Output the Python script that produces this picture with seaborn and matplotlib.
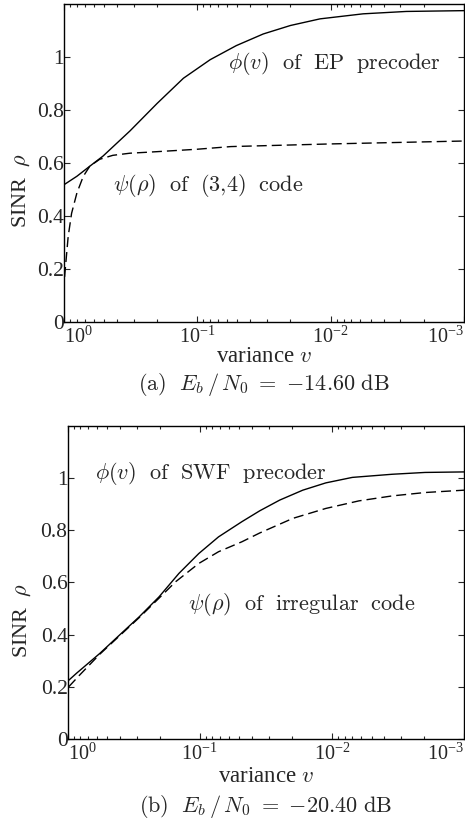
import matplotlib
matplotlib.use("Agg")
import matplotlib.pyplot as plt
import seaborn as sns

# (a) EP precoder vs (3,4) code, Eb/N0 = -14.60 dB
v_phi_a = [1.0, 0.80, 0.64, 0.51, 0.32, 0.20, 0.127, 0.080, 0.051, 0.032,
           0.020, 0.012, 0.0057, 0.0027, 0.001]
phi_a = [0.518, 0.55, 0.588, 0.626, 0.721, 0.825, 0.92, 0.99, 1.043, 1.087,
         1.119, 1.144, 1.163, 1.172, 1.175]
v_psi_a = [0.99, 0.93, 0.877, 0.80, 0.716, 0.64, 0.54, 0.43, 0.32, 0.23,
           0.10, 0.056, 0.01, 0.001]
psi_a = [0.17, 0.323, 0.41, 0.487, 0.55, 0.588, 0.614, 0.629, 0.637, 0.641,
         0.652, 0.662, 0.672, 0.683]

# (b) SWF precoder vs irregular code, Eb/N0 = -20.40 dB
v_phi_b = [0.98, 0.855, 0.57, 0.405, 0.286, 0.203, 0.1435, 0.1016, 0.072,
           0.048, 0.0351, 0.0248, 0.0166, 0.0111, 0.0070, 0.0035, 0.00197, 0.001]
phi_b = [0.225, 0.252, 0.328, 0.398, 0.469, 0.545, 0.635, 0.711, 0.775,
         0.833, 0.875, 0.916, 0.954, 0.982, 1.003, 1.015, 1.022, 1.024]
v_psi_b = [0.98, 0.81, 0.57, 0.405, 0.286, 0.203, 0.152, 0.1016, 0.072,
           0.048, 0.0351, 0.0197, 0.0111, 0.00624, 0.0035, 0.00197, 0.001]
psi_b = [0.20, 0.245, 0.325, 0.395, 0.466, 0.54, 0.603, 0.673, 0.718,
         0.756, 0.79, 0.846, 0.884, 0.913, 0.932, 0.945, 0.954]

yticks = [0, 0.2, 0.4, 0.6, 0.8, 1]
ytick_labels = ["0", "0.2", "0.4", "0.6", "0.8", "1"]
xticks = [1, 0.1, 0.01, 0.001]
xtick_labels = [r"$\mathdefault{10^{0}}$", r"$\mathdefault{10^{-1}}$",
                r"$\mathdefault{10^{-2}}$", r"$\mathdefault{10^{-3}}$"]

sns.set_style("ticks")
plt.rcParams["font.family"] = ["Liberation Serif", "DejaVu Serif"]
plt.rcParams["mathtext.fontset"] = "cm"

fig = plt.figure(figsize=(4.65, 8.21), dpi=100)
ax1 = fig.add_axes([0.1376, 0.6078, 0.860, 0.3873])
ax2 = fig.add_axes([0.1452, 0.0999, 0.8527, 0.3812])

panels = [
    (ax1, v_phi_a, phi_a, v_psi_a, psi_a,
     r"$\phi(v)\ \ \mathrm{of\ \ EP\ \ precoder}$", (0.41, 0.814),
     r"$\psi(\rho)\ \ \mathrm{of\ \ (3{,}4)\ \ code}$", (0.1225, 0.43),
     r"$\mathrm{(a)}\ \ E_b\,/\,N_0\ =\ {-}14.60\ \mathrm{dB}$", -0.198,
     (-0.08, 0.415), -0.075),
    (ax2, v_phi_b, phi_b, v_psi_b, psi_b,
     r"$\phi(v)\ \ \mathrm{of\ \ SWF\ \ precoder}$", (0.069, 0.847),
     r"$\psi(\rho)\ \ \mathrm{of\ \ irregular\ \ code}$", (0.304, 0.431),
     r"$\mathrm{(b)}\ \ E_b\,/\,N_0\ =\ {-}20.40\ \mathrm{dB}$", -0.217,
     (-0.088, 0.38), -0.086),
]

for (ax, vp, ph, vs, ps, lab_phi, pos_phi, lab_psi, pos_psi,
     caption, cap_y, ylab_pos, xlab_y) in panels:
    sns.lineplot(x=vp, y=ph, ax=ax, color="black", lw=1.0,
                 estimator=None, sort=False)
    sns.lineplot(x=vs, y=ps, ax=ax, color="black", lw=1.0,
                 estimator=None, sort=False)
    ax.lines[-1].set_dashes((7.2, 3.6))

    ax.set_xscale("log")
    ax.set_xlim(1.0, 1e-3)
    ax.set_ylim(0, 1.2)
    ax.set_yticks(yticks)
    ax.set_yticklabels(ytick_labels)
    ax.set_xticks(xticks)
    ax.set_xticklabels(xtick_labels)

    ax.tick_params(which="both", direction="in", top=True, right=True,
                   width=0.8)
    ax.tick_params(axis="x", which="major", length=4, pad=3.5, labelsize=14.5)
    ax.tick_params(axis="x", which="minor", length=2.5)
    ax.tick_params(axis="y", which="major", length=4, pad=0, labelsize=15.5)
    for s in ax.spines.values():
        s.set_linewidth(1.0)
        s.set_color("black")

    ticks = ax.xaxis.get_major_ticks()
    ticks[0].label1.set_horizontalalignment("left")
    ticks[-1].label1.set_horizontalalignment("right")

    ax.set_xlabel(r"variance $v$", fontsize=16.5)
    ax.xaxis.set_label_coords(0.5, xlab_y)
    ax.set_ylabel(r"SINR  $\rho$", fontsize=16)
    ax.yaxis.set_label_coords(*ylab_pos)

    ax.text(*pos_phi, lab_phi, transform=ax.transAxes, fontsize=16,
            va="center", ha="left")
    ax.text(*pos_psi, lab_psi, transform=ax.transAxes, fontsize=16,
            va="center", ha="left")
    ax.text(0.5, cap_y, caption, transform=ax.transAxes, fontsize=16,
            va="center", ha="center")

fig.savefig("out.png", dpi=100)
